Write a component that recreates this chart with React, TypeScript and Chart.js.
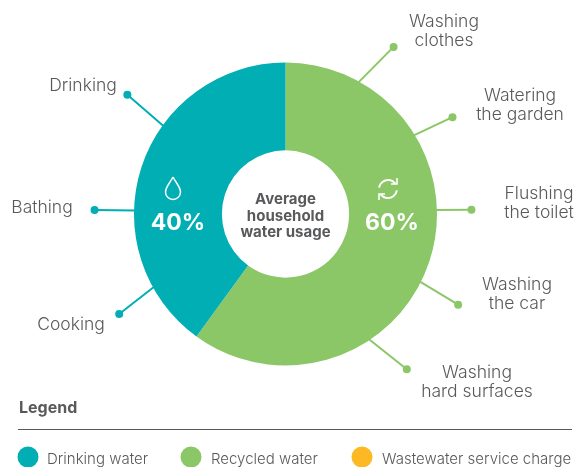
import React, { useEffect, useRef } from "react";
import { Chart, registerables } from "chart.js";

Chart.register(...registerables);

const sliceLabels = ["Recycled water", "Drinking water"];
const sliceValues = [60, 40];
const sliceColors = ["#8bc767", "#00aeb3"];
const legendLabels = ["Drinking water", "Recycled water", "Wastewater service charge"];
const legendColors = ["#00aeb3", "#8bc767", "#fdb924"];
const centerLines = ["Average", "household", "water usage"];

const GREY = "#58595b";
const FONT = "Inter, sans-serif";

// [text lines, anchor x, first baseline y, align]
const callouts: [string[], number, number, CanvasTextAlign][] = [
  [["Washing", "clothes"], 444, 27, "center"],
  [["Watering", "the garden"], 520, 101, "center"],
  [["Flushing", "the toilet"], 539, 199, "center"],
  [["Washing", "the car"], 517, 290, "center"],
  [["Washing", "hard surfaces"], 477, 378, "center"],
  [["Cooking"], 71, 330, "center"],
  [["Bathing"], 42, 213, "center"],
  [["Drinking"], 83, 91, "center"],
];
// [rim angle, dot angle, dot distance, slice index]
const leaders: [number, number, number, number][] = [
  [29, 32.9, 199, 0],
  [58.5, 59.9, 193, 0],
  [88.5, 88.7, 186, 0],
  [116.7, 117.7, 195, 0],
  [146.3, 142, 197, 0],
  [241, 239, 194, 1],
  [271.3, 271.2, 191, 1],
  [305.8, 307, 198, 1],
];

const overlay = {
  id: "overlay",
  afterDatasetsDraw(chart: any) {
    const ctx: CanvasRenderingContext2D = chart.ctx;
    const arc = chart.getDatasetMeta(0).data[0];
    const cx = arc.x;
    const cy = arc.y;
    const R = arc.outerRadius;
    const polar = (deg: number, r: number) => {
      const a = (deg * Math.PI) / 180;
      return [cx + Math.sin(a) * r, cy - Math.cos(a) * r];
    };
    ctx.save();
    leaders.forEach(([rim, dot, dist, idx]) => {
      const [x0, y0] = polar(rim, R - 1);
      const [x1, y1] = polar(dot, dist);
      ctx.strokeStyle = sliceColors[idx];
      ctx.fillStyle = sliceColors[idx];
      ctx.lineWidth = 2;
      ctx.beginPath();
      ctx.moveTo(x0, y0);
      ctx.lineTo(x1, y1);
      ctx.stroke();
      ctx.beginPath();
      ctx.arc(x1, y1, 4, 0, Math.PI * 2);
      ctx.fill();
    });

    ctx.fillStyle = GREY;
    ctx.font = `300 17.5px ${FONT}`;
    callouts.forEach(([lines, x, y, align]) => {
      ctx.textAlign = align;
      lines.forEach((l, i) => ctx.fillText(l, x, y + i * 18.5));
    });

    ctx.textAlign = "center";
    ctx.font = `700 15px ${FONT}`;
    centerLines.forEach((l, i) => ctx.fillText(l, cx, cy - 10 + i * 16.5));

    ctx.fillStyle = "#fff";
    ctx.font = `700 23px ${FONT}`;
    ctx.fillText(`${sliceValues[1]}%`, 178, 230);
    ctx.fillText(`${sliceValues[0]}%`, 392, 230);

    // drop icon
    ctx.strokeStyle = "#fff";
    ctx.lineWidth = 1.5;
    ctx.beginPath();
    ctx.moveTo(173, 177);
    ctx.bezierCurveTo(170, 183, 165.5, 187, 165.5, 192);
    ctx.arc(173, 192, 7.5, Math.PI, 0, true);
    ctx.bezierCurveTo(180.5, 187, 176, 183, 173, 177);
    ctx.stroke();

    // recycle icon
    ctx.lineWidth = 2;
    ctx.beginPath();
    ctx.arc(388, 189, 9, Math.PI * 1.05, Math.PI * 1.8);
    ctx.stroke();
    ctx.beginPath();
    ctx.arc(388, 189, 9, Math.PI * 0.05, Math.PI * 0.8);
    ctx.stroke();
    ctx.lineWidth = 1.6;
    ctx.beginPath();
    ctx.moveTo(397, 178);
    ctx.lineTo(397, 184);
    ctx.lineTo(391, 184);
    ctx.moveTo(379, 200);
    ctx.lineTo(379, 194);
    ctx.lineTo(385, 194);
    ctx.stroke();

    // legend
    ctx.textAlign = "left";
    ctx.fillStyle = GREY;
    ctx.font = `700 16px ${FONT}`;
    ctx.fillText("Legend", 19, 413);
    ctx.strokeStyle = GREY;
    ctx.lineWidth = 1;
    ctx.beginPath();
    ctx.moveTo(18, 429.5);
    ctx.lineTo(572, 429.5);
    ctx.stroke();
    const dotX = [28, 191, 362];
    const textX = [47, 211, 382];
    legendLabels.forEach((l, i) => {
      ctx.fillStyle = legendColors[i];
      ctx.beginPath();
      ctx.arc(dotX[i], 457, 10.5, 0, Math.PI * 2);
      ctx.fill();
      ctx.fillStyle = GREY;
      ctx.font = `300 15px ${FONT}`;
      ctx.fillText(l, textX[i], 464);
    });
    ctx.restore();
  },
};

export default function App() {
  const ref = useRef<HTMLCanvasElement>(null);
  useEffect(() => {
    document.body.style.margin = "0";
    const chart = new Chart(ref.current!, {
      type: "doughnut",
      data: {
        labels: sliceLabels,
        datasets: [
          { data: sliceValues, backgroundColor: sliceColors, borderWidth: 0 },
        ],
      },
      options: {
        responsive: false,
        animation: false,
        cutout: "42%",
        layout: { padding: { left: 134, right: 139, top: 62, bottom: 101 } },
        plugins: { legend: { display: false }, tooltip: { enabled: false } },
      },
      plugins: [overlay],
    } as any);
    return () => chart.destroy();
  }, []);
  return <canvas ref={ref} width={576} height={467} style={{ display: "block" }} />;
}
